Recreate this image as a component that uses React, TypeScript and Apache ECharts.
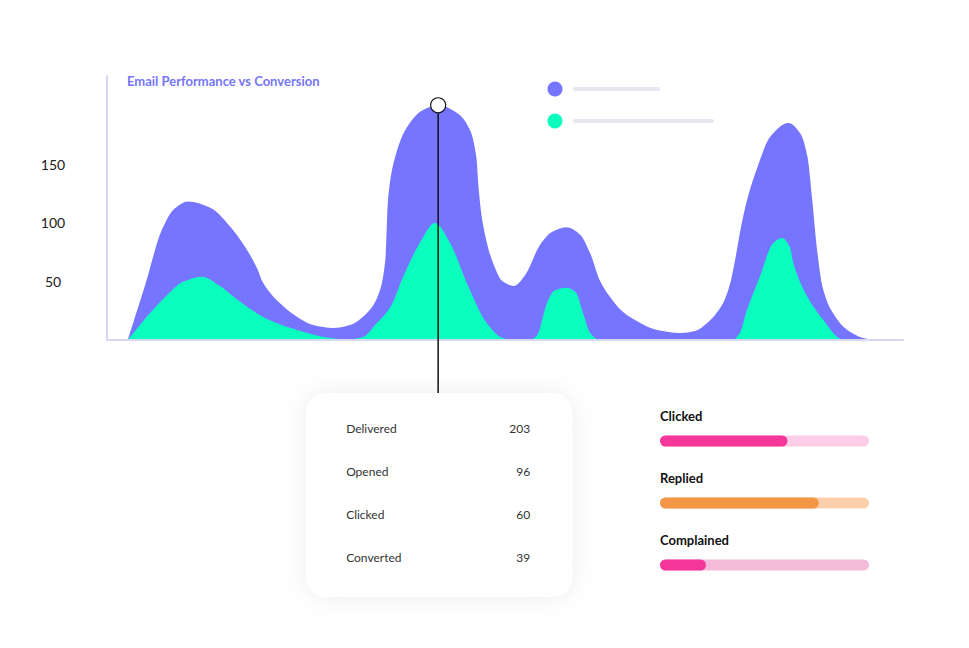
import React, { useEffect, useRef } from "react";
import * as echarts from "echarts";

const deliveredX = [2.6, 4.8, 6.9, 8.5, 10.2, 12.9, 15.8, 18.8, 19.6, 21.7, 23.9, 25.9, 28.4, 30.5, 33.0, 34.3, 35.0, 35.3, 36.2, 37.7, 39.7, 41.6, 44.0, 45.6, 46.4, 46.7, 47.2, 48.5, 49.7, 51.1, 52.5, 54.4, 55.9, 57.7, 59.4, 60.7, 61.9, 63.2, 64.8, 67.0, 69.1, 72.0, 73.9, 75.4, 77.4, 78.3, 78.9, 79.5, 80.4, 81.7, 83.3, 85.6, 87.1, 88.0, 88.6, 89.2, 89.9, 91.2, 93.0, 95.0, 96.2];
const deliveredY = [0, 47, 94, 112, 118, 113, 94, 62, 49, 31.5, 19.6, 12.8, 10.2, 12.8, 25.6, 42.6, 71, 119, 156, 181.5, 196, 200, 193.5, 179, 156, 128, 100, 65.6, 50, 46, 55, 81, 92, 96, 90, 74, 51, 36.6, 24, 14.5, 8.5, 6, 7.7, 14.5, 31.5, 48.6, 68, 91, 119, 147, 173, 185, 176, 156, 119, 77, 45, 23, 8.5, 1.7, 0];

const openedX = [2.6, 5.4, 7.5, 9.5, 11.9, 14.2, 15.8, 18.0, 20.1, 23.9, 28.0, 30.3, 32.2, 33.7, 35.6, 37.2, 39.3, 41.2, 43.1, 45.2, 47.7, 49.7, 51.3, 53.1, 54.0, 55.3, 56.2, 57.7, 58.9, 59.8, 60.7, 61.9, 78.6, 79.5, 80.4, 82.0, 83.7, 84.8, 85.8, 86.2, 88.0, 90.0, 92.1, 92.7];
const openedY = [0, 23, 38, 49.4, 54, 46, 37.5, 26.4, 18, 8.5, 1.7, 0.4, 2.6, 13, 28, 53.7, 82.7, 99.7, 82.7, 48.6, 14.5, 1.7, 0, 0, 3.4, 32, 42, 44.5, 40.5, 23, 6, 0, 0, 6, 25.6, 53.7, 82.7, 87, 79, 66, 36.6, 17, 1, 0];

const yTickLabels = [50, 100, 150];
const focusX = 41.6;
const focusValue = 200;

const cardLabels = ["Delivered", "Opened", "Clicked", "Converted"];
const cardValues = [203, 96, 60, 39];

const rateLabels = ["Clicked", "Replied", "Complained"];
const rateValues = [61, 76, 22];
const rateColors = ["#F5369B", "#F39746", "#F5369B"];
const rateBgColors = ["#FBCDE6", "#FBCFA9", "#F5B9DA"];

const FONT = "Lato, 'Noto Sans', sans-serif";

// monotone cubic (Fritsch–Carlson) area path through pixel points
function areaPath(pts: number[][], baseY: number): string {
  const n = pts.length;
  const h: number[] = [];
  const d: number[] = [];
  for (let i = 0; i < n - 1; i++) {
    h.push(pts[i + 1][0] - pts[i][0]);
    d.push((pts[i + 1][1] - pts[i][1]) / (pts[i + 1][0] - pts[i][0]));
  }
  const m: number[] = new Array(n).fill(0);
  m[0] = d[0];
  m[n - 1] = d[n - 2];
  for (let i = 1; i < n - 1; i++) {
    if (d[i - 1] * d[i] <= 0) m[i] = 0;
    else {
      const h0 = h[i - 1];
      const h1 = h[i];
      m[i] = (3 * (h0 + h1)) / ((2 * h1 + h0) / d[i - 1] + (h1 + 2 * h0) / d[i]);
    }
  }
  let s = `M${pts[0][0]},${baseY}L${pts[0][0]},${pts[0][1]}`;
  for (let i = 0; i < n - 1; i++) {
    const [x0, y0] = pts[i];
    const [x1, y1] = pts[i + 1];
    const t = h[i] / 3;
    s += `C${x0 + t},${y0 + m[i] * t},${x1 - t},${y1 - m[i + 1] * t},${x1},${y1}`;
  }
  s += `L${pts[n - 1][0]},${baseY}Z`;
  return s;
}

function areaSeries(name: string, xs: number[], ys: number[], color: string, z: number) {
  return {
    type: "custom",
    name,
    xAxisIndex: 0,
    yAxisIndex: 0,
    data: xs.map((x, i) => [x, ys[i]]),
    encode: { x: 0, y: 1 },
    z,
    renderItem: (params: any, api: any) => {
      if (params.dataIndex !== 0) return null;
      const pts = xs.map((x, i) => api.coord([x, ys[i]]));
      const baseY = api.coord([0, 0])[1];
      return {
        type: "path",
        shape: { pathData: areaPath(pts, baseY) },
        style: { fill: color, stroke: null },
      };
    },
  };
}

export default function App() {
  const ref = useRef<HTMLDivElement>(null);
  useEffect(() => {
    if (!ref.current) return;
    const chart = echarts.init(ref.current, undefined, { renderer: "svg" });
    chart.setOption({
      animation: false,
      textStyle: { fontFamily: FONT },
      title: {
        text: "Email Performance vs Conversion",
        left: 122,
        top: 69,
        textStyle: { fontSize: 13, fontWeight: "bold", color: "#7576F6", fontFamily: FONT },
      },
      grid: [
        { left: 107, right: 66, top: 76, bottom: 308 },
        { left: 660, width: 209, top: 410, height: 186 },
      ],
      xAxis: [
        {
          type: "value",
          gridIndex: 0,
          min: 0,
          max: 100,
          axisLine: { show: true, lineStyle: { color: "#D5D8F0", width: 2 } },
          axisTick: { show: false },
          axisLabel: { show: false },
          splitLine: { show: false },
          z: 5,
        },
        { type: "value", gridIndex: 1, min: 0, max: 100, show: false },
      ],
      yAxis: [
        {
          type: "value",
          gridIndex: 0,
          min: 0,
          max: 225,
          interval: 50,
          axisLine: { show: true, lineStyle: { color: "#D5D8F0", width: 2 } },
          axisTick: { show: false },
          splitLine: { show: false },
          axisLabel: {
            align: "center",
            margin: 54,
            fontSize: 14,
            color: "#222",
            fontFamily: FONT,
            formatter: (v: number) => (yTickLabels.includes(v) ? String(v) : ""),
          },
        },
        { type: "category", gridIndex: 1, data: rateLabels, inverse: true, show: false },
      ],
      series: [
        areaSeries("Delivered", deliveredX, deliveredY, "#7575FF", 2),
        areaSeries("Opened", openedX, openedY, "#0AFFBF", 3),
        {
          type: "bar",
          xAxisIndex: 1,
          yAxisIndex: 1,
          barWidth: 11,
          data: rateLabels.map((n, i) => ({ value: 100, itemStyle: { color: rateBgColors[i] } })),
          itemStyle: { borderRadius: 6 },
          label: {
            show: true,
            position: [0, -26],
            formatter: (p: any) => rateLabels[p.dataIndex],
            fontSize: 13,
            fontWeight: "bold",
            color: "#111",
            fontFamily: FONT,
          },
          z: 2,
        },
        {
          type: "bar",
          xAxisIndex: 1,
          yAxisIndex: 1,
          barWidth: 11,
          barGap: "-100%",
          data: rateValues.map((v, i) => ({ value: v, itemStyle: { color: rateColors[i] } })),
          itemStyle: { borderRadius: 6 },
          z: 3,
        },
      ],
    });

    const [px, py] = chart.convertToPixel({ gridIndex: 0 }, [focusX, focusValue]) as number[];
    const cardTop = 393;
    const cardLeft = px - 132;
    const cardW = 266;
    const cardH = 204;
    const rowGap = 43;
    const graphic: any[] = [
      { type: "circle", shape: { cx: 555, cy: 89, r: 7.5 }, style: { fill: "#7575FF" } },
      { type: "rect", shape: { x: 573, y: 87, width: 87, height: 4, r: 2 }, style: { fill: "#E6E7F3" } },
      { type: "circle", shape: { cx: 555, cy: 121, r: 7.5 }, style: { fill: "#0AFFBF" } },
      { type: "rect", shape: { x: 573, y: 119, width: 141, height: 4, r: 2 }, style: { fill: "#E6E7F3" } },
      { type: "line", shape: { x1: px, y1: py + 8, x2: px, y2: cardTop }, style: { stroke: "#111", lineWidth: 1.5 }, z: 10 },
      { type: "circle", shape: { cx: px, cy: py, r: 7.5 }, style: { fill: "#fff", stroke: "#111", lineWidth: 1.2 }, z: 11 },
      {
        type: "rect",
        shape: { x: cardLeft, y: cardTop, width: cardW, height: cardH, r: 20 },
        style: { fill: "#fff", shadowBlur: 24, shadowColor: "rgba(0,0,0,0.07)" },
        z: 10,
      },
    ];
    cardLabels.forEach((lab, i) => {
      const y = cardTop + 35 + i * rowGap;
      graphic.push({
        type: "text",
        x: cardLeft + 40,
        y,
        style: { text: lab, fill: "#333", fontSize: 12, fontFamily: FONT, verticalAlign: "middle", align: "left" },
        z: 11,
      });
      graphic.push({
        type: "text",
        x: cardLeft + 224,
        y,
        style: { text: String(cardValues[i]), fill: "#333", fontSize: 12, fontFamily: FONT, verticalAlign: "middle", align: "right" },
        z: 11,
      });
    });
    chart.setOption({ graphic });

    return () => chart.dispose();
  }, []);
  return (
    <div
      ref={ref}
      style={{ position: "fixed", left: 0, top: 0, width: 969, height: 648, background: "#fff" }}
    />
  );
}
